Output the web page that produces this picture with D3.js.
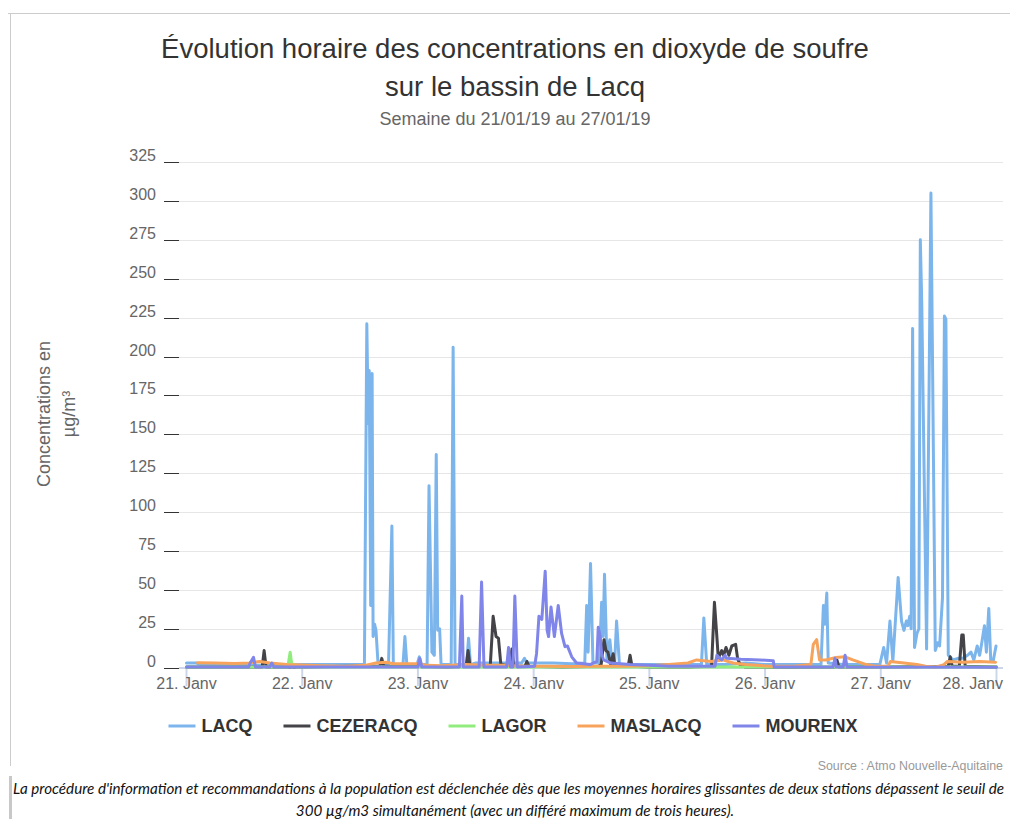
<!DOCTYPE html>
<html>
<head>
<meta charset="utf-8">
<script src="https://cdn.jsdelivr.net/npm/d3@7"></script>
<style>
  body { margin: 0; background: #fff; }
  svg { display: block; }
</style>
</head>
<body>
<div id="chart"></div>
<script>
// Séries : [heures depuis le 21/01 00:00, µg/m³]
const lacq = [[0,3],[2,3],[3,2],[6,1.5],[12,1.5],[18,1.5],[24,2],[30,2],[36,2],[36.9,2],
  [37.4,221],[37.7,157],[37.9,191],[38.2,40],[38.5,189],[38.7,20],[39.0,28],[39.3,24],[39.7,4],[40.5,2],
  [41.9,2],[42.6,91],[42.9,2],[44.9,2],[45.3,20],[45.7,2],[47.8,2],[48.3,7],[48.7,2],[49.9,2],
  [50.3,117],[50.9,10],[51.4,8],[51.8,137],[52.1,24],[52.5,25],[52.8,2],[54.9,2],[55.3,206],[55.7,2],
  [58.1,2],[58.5,19],[58.9,2],[60,3],[64,3],[69.5,3],[70.1,6],[70.6,3],[76,3],[80,2.5],
  [82.6,3],[83.0,40],[83.3,10],[83.8,67],[84.3,3],[85.6,3],[86.1,42],[86.4,20],[86.7,60],[87.2,5],
  [87.8,18],[88.3,2],[88.8,3],[89.2,30],[89.8,2],[92,2],[96,2],[100,2],[104,2],[106.8,2],
  [107.3,32],[107.9,2],[112,2],[116,3],[120,2],[126,2],[131.6,2],[132.1,40],[132.4,28],[132.8,48],
  [133.1,3],[136,2],[140,2],[143.8,2],[144.6,13],[145.2,3],[145.9,30],[146.5,4],[147.6,58],[148.3,30],
  [148.8,24],[149.3,30],[149.6,27],[150.0,33],[150.3,25],[150.6,218],[151.0,13],[151.5,22],[151.9,25],[152.2,275],
  [152.5,234],[153.5,12],[154.4,305],[155.3,11],[155.8,16],[156.2,14],[156.8,45],[157.2,226],[157.5,224],[158.0,8],
  [159,5],[160,6],[161,6],[162,8],[162.7,10],[163.3,5],[164.0,14],[164.5,8],[164.9,15],[165.5,27],
  [165.9,10],[166.4,38],[166.8,5],[167.3,4],[167.9,14]];

const cezeracq = [[0,0.5],[6,0.5],[12,0.5],[15.7,0.5],[16.1,11],[16.5,0.5],[24,0.5],[30,0.8],[36,1],[40.1,1],
  [40.5,6],[40.9,1],[48,1],[54,0.5],[58.0,1],[58.4,11],[58.8,1],[63.0,1],[63.6,33],[64.2,20],
  [64.7,19],[65.2,2],[67.1,1],[67.5,12],[67.9,1],[70.2,1],[70.6,4],[71,1],[78,0.5],[85.5,1],
  [86.0,2],[86.6,18],[87.0,11],[87.4,10],[88.0,2],[88.5,9],[88.8,2],[91.6,1],[92.0,8],[92.4,1],
  [96,0.5],[104,0.5],[108.9,1],[109.5,42],[110.0,20],[110.3,6],[111.0,11],[111.4,8],[111.9,13],[112.5,8],
  [113.1,14],[113.9,15],[114.3,6],[114.8,2],[115.8,0.5],[124,0.3],[134.5,0.5],[134.9,5],[135.3,0.5],[144,0.5],
  [158.0,1],[158.4,7],[158.8,1],[160.3,1],[160.8,21],[161.1,21],[161.5,1],[168,0.5]];

const lagor = [[0,0.5],[12,0.5],[21.0,0.5],[21.5,10],[21.9,0.5],[22.4,2],[22.8,0.5],[48,0.4],[96,0.4],[144,0.4],[168,0.5]];

const maslacq = [[2.3,3.2],[6,3],[10,2.7],[13,3],[15.2,4],[17.3,3],[20.8,2],[25,1.5],[28,1.2],[33,1],
  [37,1.5],[39.3,3],[41.3,3.5],[43,2.5],[48,2.5],[50,1.5],[53,1.2],[58,2],[62,1.5],[66,1.5],
  [70,1],[75,1],[80,0.8],[85,1],[90,1],[96,1.2],[100,2],[104,3],[105.8,5],[108.8,4],
  [111.2,5],[113.4,3],[115.9,2],[121,1],[126,1],[129.5,2],[130.0,15],[130.7,18],[131.3,5],[132.6,5],
  [134.7,6.5],[136.6,7],[138.2,5],[141,2],[142.8,1],[145.5,1],[146.0,4],[148.8,3],[151.5,2],[153.3,1],
  [155.5,0.5],[157.1,2],[157.8,4],[161,3.5],[164.5,4],[167.8,3.5]];

const mourenx = [[0,0.5],[12.9,0.5],[13.2,3],[13.9,6.7],[14.3,0.5],[17.3,0.5],[17.7,3],[18.1,0.5],[30,0.5],[40,0.5],
  [48.0,0.5],[48.4,6],[48.8,0.5],[56.6,0.5],[57.1,46],[57.4,0.5],[60.7,0.5],[61.2,55],[61.7,0.5],[66.4,0.5],
  [66.8,13],[67.2,0.5],[67.7,0.5],[68.1,46],[68.6,0.5],[72.2,1],[72.6,9],[73.1,33],[73.7,31],[74.4,62],
  [74.8,24],[75.1,20],[75.6,39],[76.3,20],[77.1,40],[77.8,22],[78.5,13.5],[79.0,14],[79.9,7],[80.9,3],
  [83.7,2],[85.1,4],[85.4,26],[85.8,20],[86.1,9],[86.5,5],[88,3],[92,2],[96,1.5],[100,1],
  [105,1],[109.6,1],[110.0,8],[110.3,7],[111.0,5],[111.7,8],[112,6],[115,5.4],[119,5],[121.7,4.5],
  [121.9,0.5],[134.1,0.5],[134.5,6],[134.8,0.5],[136.2,0.5],[136.6,8],[137.0,0.5],[168,0.3]];

const noms = ["LACQ", "CEZERACQ", "LAGOR", "MASLACQ", "MOURENX"];
const couleurs = ["#7cb5ec", "#434348", "#90ed7d", "#f7a35c", "#8085e9"];
const series = [lacq, cezeracq, lagor, maslacq, mourenx];

const yTicks = [0, 25, 50, 75, 100, 125, 150, 175, 200, 225, 250, 275, 300, 325];
const debut = Date.UTC(2019, 0, 21);
const fin = Date.UTC(2019, 0, 28);
const jours = d3.utcDay.range(new Date(debut), new Date(fin + 1));

// Dessin
const W = 1010, H = 819;
const svg = d3.select("#chart").append("svg").attr("width", W).attr("height", H);

const x = d3.scaleUtc().domain([new Date(debut), new Date(fin)]).range([186.5, 996.5]);
const y = d3.scaleLinear().domain([0, 325]).range([667.7, 162]);
const heure = h => new Date(debut + h * 3600000);

// cadre
svg.append("line").attr("x1", 8).attr("x2", W).attr("y1", 13.5).attr("y2", 13.5).attr("stroke", "#ccc");
svg.append("line").attr("x1", 10.5).attr("x2", 10.5).attr("y1", 13).attr("y2", 766).attr("stroke", "#ccc");
svg.append("rect").attr("x", 9).attr("y", 776).attr("width", 3).attr("height", 43).attr("fill", "#c8c8c8");

// titres
const police = "'Liberation Sans', Arial, sans-serif";
svg.append("text").attr("x", 515).attr("y", 58).attr("text-anchor", "middle")
  .attr("font-family", police).attr("font-size", 27.5).attr("fill", "#333")
  .text("Évolution horaire des concentrations en dioxyde de soufre");
svg.append("text").attr("x", 515).attr("y", 96).attr("text-anchor", "middle")
  .attr("font-family", police).attr("font-size", 27.5).attr("fill", "#333")
  .text("sur le bassin de Lacq");
svg.append("text").attr("x", 515).attr("y", 125).attr("text-anchor", "middle")
  .attr("font-family", police).attr("font-size", 18).attr("fill", "#666")
  .text("Semaine du 21/01/19 au 27/01/19");

// grille et axe Y
const gY = svg.append("g");
yTicks.forEach(t => {
  if (t > 0) {
    gY.append("line").attr("x1", 179).attr("x2", 1003).attr("y1", Math.round(y(t)) + 0.5).attr("y2", Math.round(y(t)) + 0.5)
      .attr("stroke", "#e6e6e6");
  }
  gY.append("line").attr("x1", 164).attr("x2", 179).attr("y1", Math.round(y(t)) + 0.5).attr("y2", Math.round(y(t)) + 0.5)
    .attr("stroke", "#333");
  gY.append("text").attr("x", 156).attr("y", y(t) - 1).attr("text-anchor", "end")
    .attr("font-family", police).attr("font-size", 16).attr("fill", "#666").text(t);
});

const titreY = svg.append("text").attr("transform", "translate(50,414) rotate(-90)")
  .attr("text-anchor", "middle").attr("font-family", police).attr("font-size", 18).attr("fill", "#666");
titreY.append("tspan").attr("x", 0).attr("y", 0).text("Concentrations en");
titreY.append("tspan").attr("x", 0).attr("y", 25).text("µg/m³");

// axe X
svg.append("line").attr("x1", 179).attr("x2", 1003).attr("y1", 668).attr("y2", 668)
  .attr("stroke", "#ccd6eb").attr("stroke-width", 2);
const gX = svg.append("g");
jours.forEach(d => {
  gX.append("line").attr("x1", x(d)).attr("x2", x(d)).attr("y1", 668).attr("y2", 686)
    .attr("stroke", "#ccd6eb").attr("stroke-width", 2);
});
jours.forEach(d => {
  const t = gX.append("text").attr("x", x(d)).attr("y", 689).attr("text-anchor", "middle")
    .attr("font-family", police).attr("font-size", 16).attr("fill", "#666")
    .text(d3.utcFormat("%-d")(d) + ". Janv");
  const w = t.node().getComputedTextLength();
  if (x(d) + w / 2 > 1003) t.attr("x", 1003).attr("text-anchor", "end");
});

// courbes
const ligne = d3.line().x(d => x(heure(d[0]))).y(d => y(d[1]));
series.forEach((s, i) => {
  svg.append("path").datum(s).attr("d", ligne).attr("fill", "none")
    .attr("stroke", couleurs[i]).attr("stroke-width", 3)
    .attr("stroke-linejoin", "round").attr("stroke-linecap", "round");
});

// légende
const gL = svg.append("g");
let lx = 0;
noms.forEach((n, i) => {
  const item = gL.append("g").attr("transform", `translate(${lx},0)`);
  item.append("line").attr("x1", 0).attr("x2", 27).attr("y1", 0).attr("y2", 0)
    .attr("stroke", couleurs[i]).attr("stroke-width", 3);
  const t = item.append("text").attr("x", 33).attr("y", 6).attr("font-family", police)
    .attr("font-size", 18).attr("font-weight", "bold").attr("fill", "#333").text(n);
  lx += 33 + t.node().getComputedTextLength() + 31;
});
const largeurL = lx - 31;
gL.attr("transform", `translate(${513 - largeurL / 2},726)`);

// crédits
svg.append("text").attr("x", 1003).attr("y", 770).attr("text-anchor", "end")
  .attr("font-family", police).attr("font-size", 12.4).attr("fill", "#999")
  .text("Source : Atmo Nouvelle-Aquitaine");

// note (la première ligne déborde à droite, comme sur l'original)
svg.append("text").attr("x", 13).attr("y", 794).attr("font-family", "Lato, sans-serif")
  .attr("font-style", "italic").attr("font-size", 15.2).attr("fill", "#111")
  .text("La procédure d'information et recommandations à la population est déclenchée dès que les moyennes horaires glissantes de deux stations dépassent le seuil de");
svg.append("text").attr("x", 515).attr("y", 816).attr("text-anchor", "middle").attr("font-family", "Lato, sans-serif")
  .attr("font-style", "italic").attr("font-size", 15.2).attr("fill", "#111")
  .text("300 µg/m3 simultanément (avec un différé maximum de trois heures).");
</script>
</body>
</html>
